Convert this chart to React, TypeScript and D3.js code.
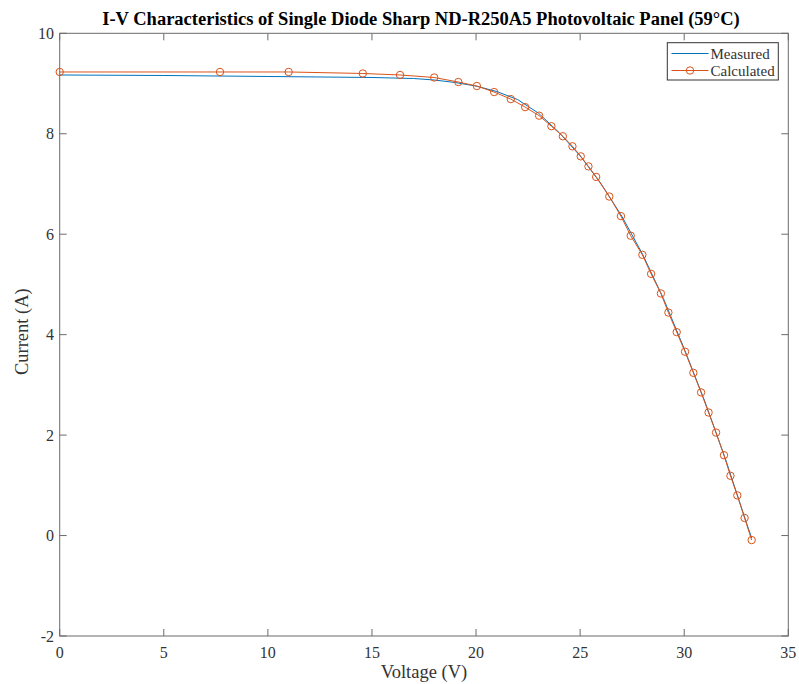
import React from "react";
import * as d3 from "d3";

const TITLE = "I-V Characteristics of Single Diode Sharp ND-R250A5 Photovoltaic Panel (59°C)";
const X_LABEL = "Voltage (V)";
const Y_LABEL = "Current (A)";
const X_TICKS = [0, 5, 10, 15, 20, 25, 30, 35];
const Y_TICKS = [-2, 0, 2, 4, 6, 8, 10];

const measuredV = [0, 5, 10, 15, 17, 18, 19, 20, 21, 22, 23, 24, 25, 26, 27, 28, 29, 30, 31, 32, 33, 33.24];
const measuredI = [9.17, 9.16, 9.14, 9.12, 9.1, 9.07, 9.02, 8.95, 8.84, 8.68, 8.41, 8.02, 7.56, 7.01, 6.36, 5.6, 4.72, 3.72, 2.66, 1.5, 0.24, -0.05];

const calcV = [0, 7.7, 11.0, 14.56, 16.35, 17.99, 19.15, 20.04, 20.87, 21.67, 22.36, 23.03, 23.62, 24.17, 24.63, 25.03, 25.4, 25.77, 26.4, 26.96, 27.43, 27.99, 28.41, 28.88, 29.24, 29.64, 30.04, 30.44, 30.81, 31.17, 31.53, 31.91, 32.22, 32.55, 32.9, 33.24];
const calcI = [9.23, 9.23, 9.23, 9.2, 9.17, 9.12, 9.03, 8.95, 8.83, 8.69, 8.53, 8.36, 8.15, 7.95, 7.75, 7.55, 7.35, 7.14, 6.75, 6.36, 5.97, 5.59, 5.21, 4.82, 4.44, 4.05, 3.66, 3.24, 2.85, 2.45, 2.05, 1.6, 1.19, 0.8, 0.35, -0.09];

const W = 799, H = 684;
const L = 59.7, R = 788.3, T = 33.3, B = 636;
const BLUE = "#0072BD", ORANGE = "#D95319";
const AX = "#6b6b6b", TXT = "#333333";
const FONT = "'Liberation Serif', 'Times New Roman', serif";

export default function App() {
  const x = d3.scaleLinear().domain([0, 35]).range([L, R]);
  const y = d3.scaleLinear().domain([-2, 10]).range([B, T]);
  const line = d3.line<[number, number]>().x(d => x(d[0])).y(d => y(d[1]));
  const meas: [number, number][] = measuredV.map((v, i) => [v, measuredI[i]]);
  const calc: [number, number][] = calcV.map((v, i) => [v, calcI[i]]);
  const tk = 7;
  return (
    <svg width={W} height={H} style={{ position: "absolute", left: 0, top: 0, background: "#fff" }} fontFamily={FONT}>
      <rect x={0} y={0} width={W} height={H} fill="#fff" />
      <text x={421} y={25} textAnchor="middle" fontWeight="bold" fontSize={18.5} fill="#000">{TITLE}</text>
      <g>
        <path d={line(meas) || ""} fill="none" stroke={BLUE} strokeWidth={1} />
        <path d={line(calc) || ""} fill="none" stroke={ORANGE} strokeWidth={1} />
        {calc.map((d, i) => (
          <circle key={i} cx={x(d[0])} cy={y(d[1])} r={3.7} fill="none" stroke={ORANGE} strokeWidth={1} />
        ))}
      </g>
      <rect x={L} y={T} width={R - L} height={B - T} fill="none" stroke={AX} strokeWidth={1} />
      {X_TICKS.map(t => (
        <g key={"x" + t}>
          <line x1={x(t)} x2={x(t)} y1={B} y2={B - tk} stroke={AX} />
          <line x1={x(t)} x2={x(t)} y1={T} y2={T + tk} stroke={AX} />
          <text x={x(t)} y={658} textAnchor="middle" fontSize={16} fill={TXT}>{t}</text>
        </g>
      ))}
      {Y_TICKS.map(t => (
        <g key={"y" + t}>
          <line x1={L} x2={L + tk} y1={y(t)} y2={y(t)} stroke={AX} />
          <line x1={R} x2={R - tk} y1={y(t)} y2={y(t)} stroke={AX} />
          <text x={54} y={y(t) + 5.5} textAnchor="end" fontSize={16} fill={TXT}>{t}</text>
        </g>
      ))}
      <text x={(L + R) / 2} y={678} textAnchor="middle" fontSize={18.5} fill={TXT}>{X_LABEL}</text>
      <text transform={`translate(28, ${(T + B) / 2 - 3}) rotate(-90)`} textAnchor="middle" fontSize={18.5} fill={TXT}>{Y_LABEL}</text>
      <g>
        <rect x={667.3} y={42.7} width={111} height={37.3} fill="#fff" stroke="#333" strokeWidth={1} />
        <line x1={671.5} x2={708.5} y1={53.5} y2={53.5} stroke={BLUE} />
        <text x={710.5} y={58.5} fontSize={15} fill={TXT}>Measured</text>
        <line x1={671.5} x2={708.5} y1={70.5} y2={70.5} stroke={ORANGE} />
        <circle cx={690} cy={70.5} r={3.7} fill="none" stroke={ORANGE} />
        <text x={710.5} y={75.5} fontSize={15} fill={TXT}>Calculated</text>
      </g>
    </svg>
  );
}
